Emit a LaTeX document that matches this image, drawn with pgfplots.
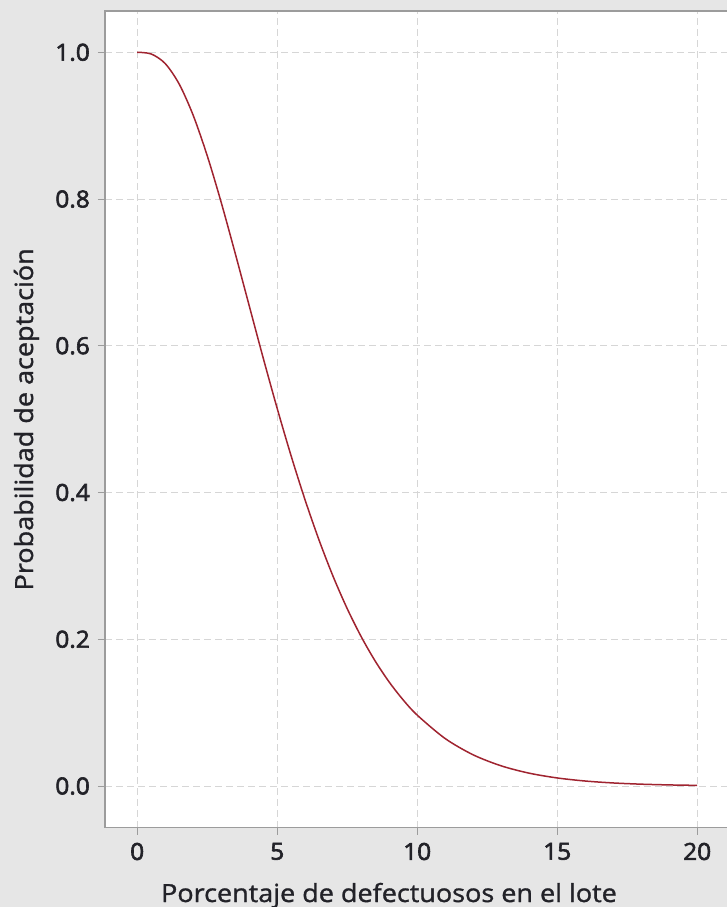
\documentclass[border=0pt]{standalone}
\usepackage{fontspec}
\setmainfont{Open Sans}
\newfontfamily\tickfont[FakeBold=2.6,FakeStretch=1.04]{Open Sans}
\newfontfamily\labfont[FakeBold=1.2,FakeStretch=1.08]{Open Sans}
\usepackage{pgfplots}
\usepackage{pgfplotstable}
\pgfplotsset{compat=1.18}
\definecolor{bggray}{HTML}{E6E6E6}
\definecolor{framegray}{HTML}{9C9C9C}
\definecolor{gridgray}{HTML}{D6D6D6}
\definecolor{curvered}{HTML}{A02430}
\definecolor{txt}{HTML}{222228}
\pgfplotstableread{
x y
0 1.00000
0.5 0.99772
1 0.98465
1.5 0.95670
2 0.91407
2.5 0.85919
3 0.79541
3.5 0.72603
4 0.65465
4.5 0.58336
5 0.51457
5.5 0.44960
6 0.38944
6.5 0.33463
7 0.28537
7.5 0.24177
8 0.20353
8.5 0.17029
9 0.14170
9.5 0.11730
10 0.09664
11 0.06466
12 0.04250
13 0.02749
14 0.01751
15 0.01100
16 0.00682
17 0.00417
18 0.00252
19 0.00150
20 0.00089
}\occurve
\begin{document}
\begin{tikzpicture}
\path[use as bounding box] (0pt,0pt) rectangle (727pt,907pt);
\clip (0pt,0pt) rectangle (727pt,907pt);
\fill[bggray] (0pt,0pt) rectangle (727pt,907pt);
\begin{axis}[
  at={(105pt,79.3pt)}, anchor=south west,
  scale only axis, width=624.4pt, height=816.7pt,
  xmin=-1.15, xmax=21.15, ymin=-0.0568, ymax=1.0563,
  xtick={0,5,10,15,20},
  ytick={0,0.2,0.4,0.6,0.8,1.0},
  yticklabels={0.0,0.2,0.4,0.6,0.8,1.0},
  axis background/.style={fill=white},
  axis line style={framegray, line width=1.4pt},
  tick align=outside, tick pos=left,
  major tick length=7pt,
  tick style={framegray, line width=1pt},
  grid=major,
  major grid style={gridgray, line width=1pt, dash pattern=on 7pt off 4pt},
  /pgf/number format/assume math mode=true,
  tick label style={font=\tickfont\fontsize{23.5}{28}\selectfont, text=txt, inner sep=0pt},
  xticklabel shift=8pt,
  yticklabel shift=8pt,
  xlabel={Porcentaje de defectuosos en el lote},
  ylabel={Probabilidad de aceptación},
  xlabel style={font=\labfont\fontsize{25}{30}\selectfont, text=txt, inner sep=0pt,
    at={(rel axis cs:0.4548,0)}, anchor=base, yshift=-74.3pt},
  ylabel style={font=\labfont\fontsize{25}{30}\selectfont, text=txt, inner sep=0pt,
    at={(rel axis cs:-0.1153,0.5)}, anchor=base},
]
\addplot[curvered, line width=1.5pt, no marks, smooth] table {\occurve};
\end{axis}
\end{tikzpicture}
\end{document}
